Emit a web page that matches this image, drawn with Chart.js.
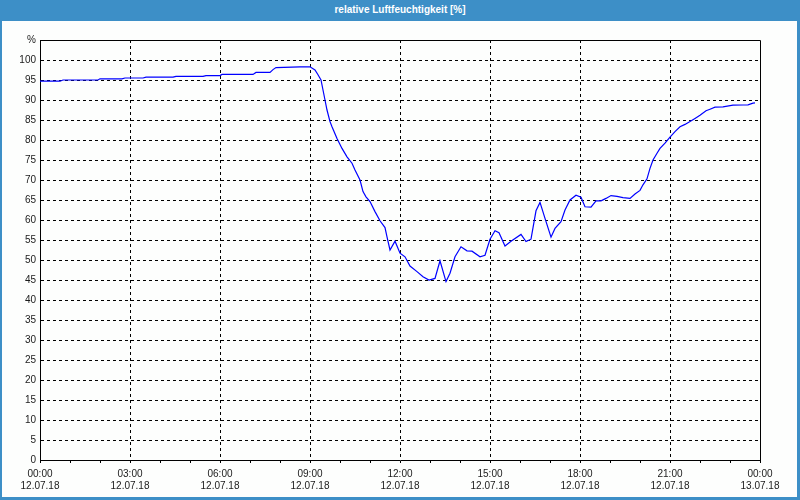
<!DOCTYPE html>
<html>
<head>
<meta charset="utf-8">
<title>relative Luftfeuchtigkeit</title>
<script src="https://cdn.jsdelivr.net/npm/chart.js@4.4.1/dist/chart.umd.min.js"></script>
<style>
    body { margin: 0; }
    #frame { position: absolute; left: 0; top: 0; width: 800px; height: 500px; background: #3d8fc7; }
    #title { position: absolute; left: 0; top: 0; width: 800px; height: 21px;
             font: bold 10px "Liberation Sans", sans-serif; line-height: 19px;
             text-align: center; color: #fff; }
    #inner { position: absolute; left: 2px; top: 21px; width: 795px; height: 476px; background: #fdfefd; }
    #humChart { position: absolute; left: 0; top: 0; }
</style>
</head>
<body>
<div id="frame">
    <div id="title">relative Luftfeuchtigkeit [%]</div>
    <div id="inner"></div>
</div>
<canvas id="humChart" width="800" height="500"></canvas>
<script>
// minutes since 12.07.18 00:00
var minutes = [0, 40, 46, 116, 120, 164, 170, 206, 212, 266, 272, 326, 332, 360, 364, 426, 432, 460, 466, 472,
    520, 540, 550, 556, 562, 566, 570, 574, 580, 584, 594, 604, 614, 624, 630, 640, 646, 652, 660, 670,
    680, 690, 694, 700, 710, 720, 730, 740, 754, 766, 778, 790, 800, 812, 820, 830, 842, 854, 864, 880,
    890, 900, 910, 918, 930, 942, 962, 972, 982, 992, 1000, 1010, 1022, 1030, 1042, 1050, 1060, 1072, 1082, 1090,
    1102, 1112, 1122, 1132, 1142, 1154, 1166, 1180, 1190, 1200, 1206, 1214, 1220, 1226, 1234, 1240, 1250, 1260, 1270, 1280,
    1290, 1300, 1310, 1320, 1332, 1340, 1350, 1366, 1386, 1406, 1416, 1426, 1430];
var humidity = [94.7, 94.7, 95.0, 95.0, 95.3, 95.3, 95.5, 95.5, 95.7, 95.7, 95.9, 95.9, 96.1, 96.1, 96.4, 96.4, 96.9, 96.9, 97.6, 98.1,
    98.3, 98.3, 97.5, 96.3, 95.0, 92.5, 90.0, 87.5, 84.6, 83.3, 80.4, 77.9, 75.8, 74.2, 72.5, 70.0, 67.1, 65.8, 64.6, 62.1,
    59.8, 58.1, 55.8, 52.5, 54.7, 51.7, 50.8, 48.5, 47.1, 45.8, 45.0, 45.4, 49.8, 44.6, 46.7, 50.8, 53.3, 52.3, 52.2, 50.8,
    51.2, 55.2, 57.3, 56.8, 53.5, 54.7, 56.4, 54.6, 55.2, 62.3, 64.4, 60.4, 55.7, 57.9, 59.6, 62.5, 65.0, 66.2, 65.7, 63.3,
    63.2, 64.8, 64.8, 65.4, 66.1, 65.9, 65.6, 65.4, 66.5, 67.4, 68.8, 70.3, 72.9, 75.0, 76.7, 77.9, 79.2, 80.7, 82.1, 83.3,
    83.9, 84.6, 85.4, 86.2, 87.3, 87.7, 88.2, 88.3, 88.7, 88.75, 88.8, 89.2, 89.3];

var timeLabels = ["00:00", "03:00", "06:00", "09:00", "12:00", "15:00", "18:00", "21:00", "00:00"];
var dateLabels = ["12.07.18", "12.07.18", "12.07.18", "12.07.18", "12.07.18", "12.07.18", "12.07.18", "12.07.18", "13.07.18"];

var points = [];
for (var i = 0; i < minutes.length; i++) {
    points.push({ x: minutes[i], y: humidity[i] });
}

// top and right edge of the plot box
var boxPlugin = {
    id: 'box',
    afterDraw: function (chart) {
        var a = chart.chartArea;
        var c = chart.ctx;
        c.save();
        c.strokeStyle = '#000';
        c.lineWidth = 1;
        c.beginPath();
        c.moveTo(Math.round(a.left) + 0.5, Math.round(a.top) + 0.5);
        c.lineTo(Math.round(a.right) + 0.5, Math.round(a.top) + 0.5);
        c.lineTo(Math.round(a.right) + 0.5, Math.round(a.bottom) + 0.5);
        c.stroke();
        c.restore();
    }
};

var ctx = document.getElementById('humChart').getContext('2d');
var chart = new Chart(ctx, {
    type: 'line',
    data: {
        datasets: [{
            label: 'relative Luftfeuchtigkeit [%]',
            data: points,
            borderColor: '#0000ff',
            borderWidth: 1.2,
            pointRadius: 0,
            tension: 0,
            fill: false
        }]
    },
    options: {
        responsive: false,
        devicePixelRatio: 1,
        animation: false,
        layout: { padding: { left: 0, top: 40, right: 40, bottom: 0 } },
        plugins: {
            legend: { display: false },
            tooltip: { enabled: false }
        },
        scales: {
            x: {
                type: 'linear',
                min: 0,
                max: 1440,
                afterFit: function (s) { s.height = 40; },
                border: { color: '#000', width: 1, dash: [3, 3] },
                grid: {
                    color: function (c) {
                        var v = c.tick ? c.tick.value : 0;
                        return (v % 180 === 0 && v !== 0 && v !== 1440) ? '#000' : 'rgba(0,0,0,0)';
                    },
                    tickColor: '#000',
                    tickLength: 3,
                    lineWidth: 1
                },
                ticks: {
                    stepSize: 60,
                    autoSkip: false,
                    maxRotation: 0,
                    padding: 5,
                    color: '#1a1a1a',
                    font: { family: 'Liberation Sans', size: 10 },
                    callback: function (v) {
                        if (v % 180 !== 0) return '';
                        var k = v / 180;
                        return [timeLabels[k], dateLabels[k]];
                    }
                }
            },
            y: {
                min: 0,
                max: 105,
                afterFit: function (s) { s.width = 40; },
                border: { color: '#000', width: 1, dash: [3, 3] },
                grid: {
                    drawTicks: false,
                    color: function (c) {
                        var v = c.tick ? c.tick.value : 0;
                        return (v === 0 || v === 105) ? 'rgba(0,0,0,0)' : '#000';
                    },
                    lineWidth: 1
                },
                ticks: {
                    stepSize: 5,
                    padding: 4,
                    color: '#1a1a1a',
                    font: { family: 'Liberation Sans', size: 10 },
                    callback: function (v) { return v === 105 ? '%' : v; }
                }
            }
        }
    },
    plugins: [boxPlugin]
});
</script>
</body>
</html>
